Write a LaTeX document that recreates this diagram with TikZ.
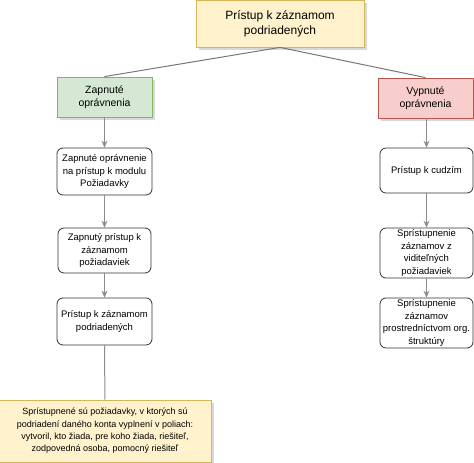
\documentclass[tikz,border=0pt]{standalone}
\usepackage{fontspec}
\setmainfont{Liberation Sans}
\usetikzlibrary{arrows.meta,shadows}
\definecolor{yfill}{HTML}{FFF2CC}
\definecolor{ydraw}{HTML}{D6B656}
\definecolor{gfill}{HTML}{D5E8D4}
\definecolor{gdraw}{HTML}{82B366}
\definecolor{rfill}{HTML}{F8CECC}
\definecolor{rdraw}{HTML}{B85450}
\definecolor{conn}{HTML}{8C8C8C}
\definecolor{bord}{HTML}{333333}
\tikzset{
  shad/.style={drop shadow={shadow xshift=2.5pt,shadow yshift=-2.5pt,opacity=0.25,fill=black!60}},
  ybox/.style={draw=ydraw,fill=yfill,shad,line width=0.8pt,align=center,inner sep=0pt},
  gbox/.style={draw=gdraw,fill=gfill,shad,line width=0.8pt,align=center,inner sep=0pt,
     minimum width=95pt,minimum height=40pt,font=\fontsize{10.5}{13.5}\selectfont},
  rbox/.style={draw=rdraw,fill=rfill,shad,line width=0.8pt,align=center,inner sep=0pt,
     minimum width=95pt,minimum height=40pt,font=\fontsize{10.5}{13.5}\selectfont},
  rbx/.style={draw=bord,fill=white,rounded corners=6pt,line width=0.8pt,align=center,inner sep=0pt,
     font=\fontsize{9.5}{12.5}\selectfont},
  arr/.style={draw=conn,line width=1pt,-{Stealth[length=7pt,width=6pt]}},
  ln/.style={draw=conn!85!black,line width=1pt},
}
\begin{document}
\begin{tikzpicture}[x=1pt,y=-1pt]
\useasboundingbox (0,0) rectangle (474,463);
\begin{scope}
\clip (0,0) rectangle (474,463);
\node[ybox,minimum width=168pt,minimum height=47pt,font=\fontsize{12}{15}\selectfont] (top) at (280,23.5) {Prístup k záznamom\\podriadených};
\node[gbox] (zap) at (104.5,97) {Zapnuté\\oprávnenia};
\node[rbox] (vyp) at (425.5,98) {Vypnuté\\oprávnenia};
\node[rbx,minimum width=95pt,minimum height=47pt] (l1) at (104.5,171.5) {Zapnuté oprávnenie\\na prístup k modulu\\Požiadavky};
\node[rbx,minimum width=93pt,minimum height=45pt] (l2) at (104.5,250.5) {Zapnutý prístup k\\záznamom\\požiadaviek};
\node[rbx,minimum width=95pt,minimum height=47pt] (l3) at (104.5,321.5) {Prístup k  záznamom\\podriadených};
\node[rbx,minimum width=93pt,minimum height=45pt] (r1) at (426.5,170.5) {Prístup k cudzím};
\node[rbx,minimum width=93pt,minimum height=50pt] (r2) at (426.5,253) {Sprístupnenie\\záznamov z\\viditeľných\\požiadaviek};
\node[rbx,minimum width=93pt,minimum height=50pt] (r3) at (426.5,323) {Sprístupnenie\\záznamov\\prostredníctvom org.\\štruktúry};
\node[ybox,minimum width=212pt,minimum height=62pt,font=\fontsize{9}{12.3}\selectfont] (bot) at (105,431) {Sprístupnené sú požiadavky, v ktorých sú\\podriadení daného konta vyplnení v poliach:\\vytvoril, kto žiada, pre koho žiada, riešiteľ,\\zodpovedná osoba, pomocný riešiteľ};
\draw[ln] (top.south) -- (zap.north);
\draw[ln] (top.south) -- (vyp.north);
\draw[arr] (zap) -- (l1);
\draw[arr] (l1) -- (l2);
\draw[arr] (l2) -- (l3);
\draw[ln,draw=conn] (l3) -- (bot);
\draw[arr] (vyp.south -| r1.north) -- (r1);
\draw[arr] (r1) -- (r2);
\draw[arr] (r2) -- (r3);
\end{scope}
\end{tikzpicture}
\end{document}
